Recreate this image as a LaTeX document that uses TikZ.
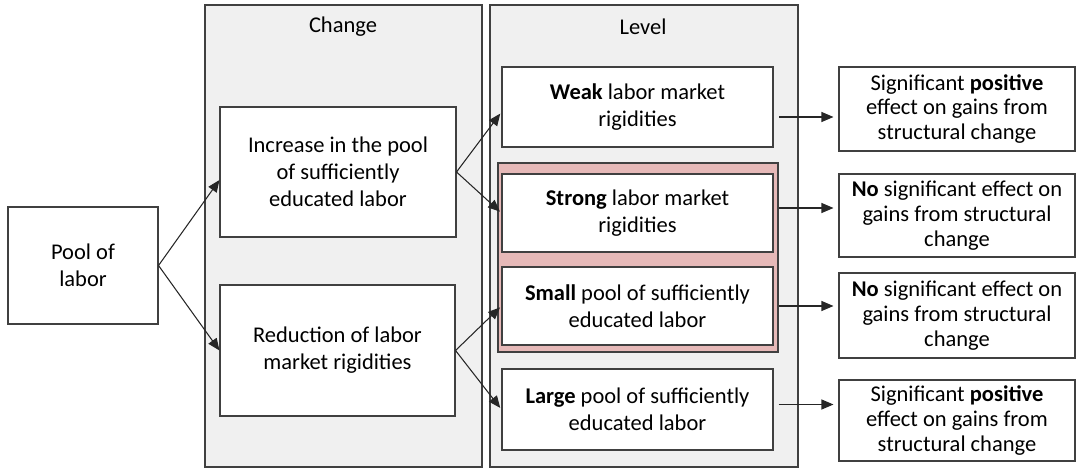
\documentclass[tikz,border=0pt]{standalone}
\usepackage{fontspec}
\setmainfont{Carlito}
\usepackage{xcolor}
\usepackage{tikz}
\usetikzlibrary{
  arrows.meta,
  positioning
}
\definecolor{panelgray}{RGB}{240,240,240}
\definecolor{rosefill}{RGB}{230,185,184}
\definecolor{edgegray}{RGB}{64,64,64}

\begin{document}
\begin{tikzpicture}[x=0.2mm,y=-0.2mm,
  every node/.style={font=\fontsize{12.8}{15.3}\selectfont},
  every text node part/.style={align=center},
  panel/.style={rectangle,draw=edgegray,fill=panelgray,line width=0.6pt,inner sep=0pt},
  box/.style={rectangle,draw=edgegray,fill=white,line width=0.6pt,inner sep=0pt},
  outbox/.style={box,font=\fontsize{12.8}{14.2}\selectfont},
  arr/.style={-{Triangle[length=2.4mm,width=2mm]},line width=0.6pt,black!85}]
  \useasboundingbox (0,0) rectangle (1079,470);

  % the two columns
  \node[panel,minimum width=55.4mm,minimum height=92.4mm] (c) at (343.5,236) {};
  \node[panel,minimum width=61.6mm,minimum height=92.4mm] (l) at (644,236) {};
  \node (ct) at (343,27) {Change};
  \node (lt) at (643,27) {Level};
  \node[rectangle,draw=edgegray,fill=rosefill,line width=0.6pt,minimum width=56mm,minimum height=37.8mm] (pk) at (638,257.5) {};

  \node[box,minimum width=30mm,minimum height=23.4mm] (0) at (83,265.5) {Pool of\\labor};
  \node[box,minimum width=47.2mm,minimum height=26mm] (1) at (338,172) {Increase in the pool\\of sufficiently\\educated labor};
  \node[box,minimum width=47mm,minimum height=26.2mm] (2) at (337.5,350.5) {Reduction of labor\\market rigidities};

  \node[box,minimum width=54.2mm,minimum height=16mm] (3) at (637.5,107) {\textbf{Weak} labor market\\rigidities};
  \node[box,minimum width=54.2mm,minimum height=15.6mm] (4) at (637.5,213) {\textbf{Strong} labor market\\rigidities};
  \node[box,minimum width=54.2mm,minimum height=15.6mm] (5) at (637.5,306) {\textbf{Small} pool of sufficiently\\educated labor};
  \node[box,minimum width=54.2mm,minimum height=16.2mm] (6) at (637.5,409.5) {\textbf{Large} pool of sufficiently\\educated labor};

  \node[outbox,minimum width=47.2mm,minimum height=16.8mm] (7) at (957,109) {Significant \textbf{positive}\\effect on gains from\\structural change};
  \node[outbox,minimum width=47.2mm,minimum height=16.6mm] (8) at (957,215.5) {\textbf{No} significant effect on\\gains from structural\\change};
  \node[outbox,minimum width=47.2mm,minimum height=17mm] (9) at (957,315.5) {\textbf{No} significant effect on\\gains from structural\\change};
  \node[outbox,minimum width=47.2mm,minimum height=16.2mm] (10) at (957,420.5) {Significant \textbf{positive}\\effect on gains from\\structural change};

  \draw[arr] (0.east) -- ([yshift=-1.6mm]1.west);
  \draw[arr] (0.east) -- (2.west);
  \draw[arr,shorten >=0.4mm] (1.east) -- ([yshift=-1mm]3.west);
  \draw[arr,shorten >=0.4mm] (1.east) -- (4.west);
  \draw[arr,shorten >=0.4mm] (2.east) -- (5.west);
  \draw[arr,shorten >=0.4mm] (2.east) -- (6.west);

  \draw[arr,shorten <=1.1mm,shorten >=1mm] ([yshift=-2mm]3.east) -- ([yshift=-2mm]3.east -| 7.west);
  \draw[arr,shorten <=1mm,shorten >=1mm] ([yshift=1mm]4.east) -- ([yshift=1mm]4.east -| 8.west);
  \draw[arr,shorten <=1mm,shorten >=1mm] (5.east) -- (5.east -| 9.west);
  \draw[arr,shorten <=1mm,shorten >=1mm] ([yshift=1mm]6.east) -- ([yshift=1mm]6.east -| 10.west);
\end{tikzpicture}
\end{document}
